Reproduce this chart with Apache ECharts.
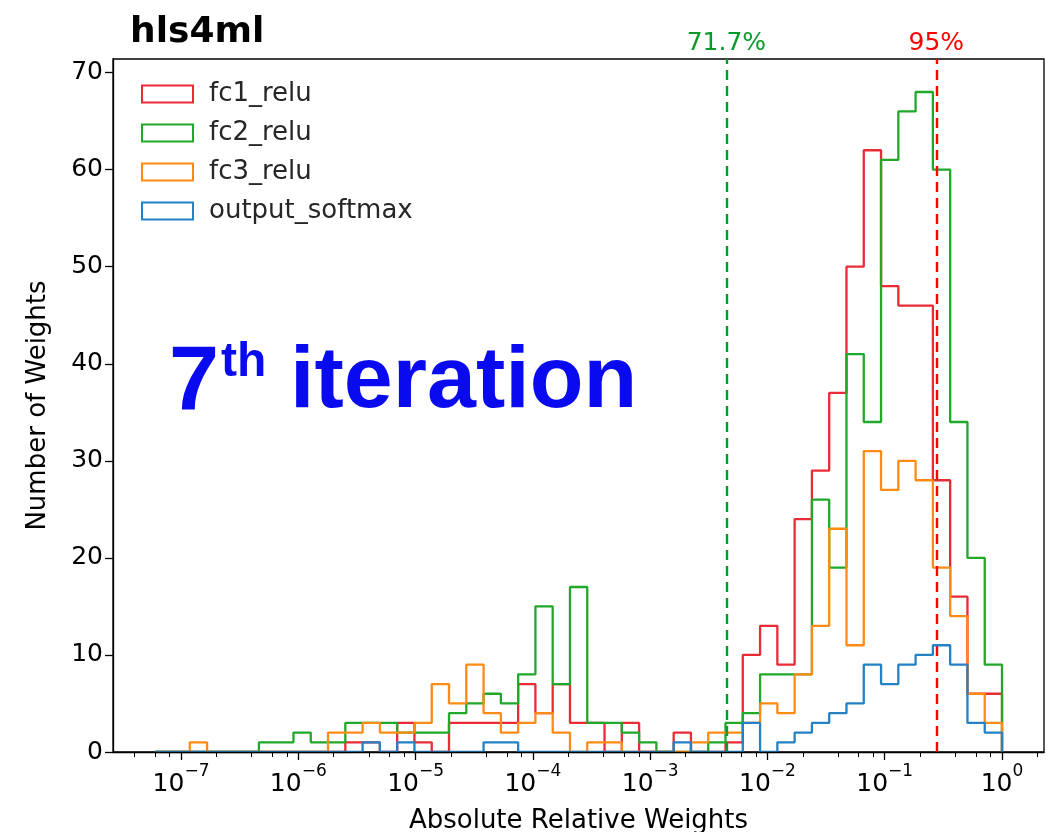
<!DOCTYPE html>
<html><head><meta charset="utf-8">
<script src="https://cdn.jsdelivr.net/npm/echarts@6/dist/echarts.min.js"></script>
<style>html,body{margin:0;padding:0;background:#fff}#c{width:1058px;height:832px}</style>
</head><body><div id="c"></div>
<script>
// Histogram binning (log10 space): 49 log-spaced bins from 10^-7.22 to 10^0
const LOG_LO = -7.22, LOG_HI = 0, N_BINS = 49;
const AXIS_LOG_MIN = -7.58, AXIS_LOG_MAX = 0.358;

const seriesNames = ['fc1_relu', 'fc2_relu', 'fc3_relu', 'output_softmax'];
const seriesColors = ['#ea2b36', '#1fa82a', '#ff8a14', '#2381c4'];

const fc1_relu = [0,0,0,0,0,0,0,0,0,0,0, 1,1,0,3,1,0,3,3,3,3, 7,4,7,3,3,0,3,0,0,2, 0,0,1,10,13,9,24,29,37,50, 62,48,46,46,28,16,6,6];
const fc2_relu = [0,0,0,0,0,0, 1,1,2,1,1, 3,3,3,2,2,2,4,5,6,5, 8,15,7,17,3,3,2,1,0,0, 0,1,3,4,8,8,8,26,19,41, 34,61,66,68,60,34,20,9];
const fc3_relu = [0,0,1,0,0,0,0,0,0,0, 2,2,3,2,2,3,7,5,9,4, 2,3,4,2,0,1,1,0,0,0, 0,1,2,2,3,5,4,8,13,23, 11,31,27,30,28,19,14,6,3];
const output_softmax = [0,0,0,0,0,0,0,0,0,0, 0,0,1,0,1,0,0,0,0,1, 1,0,0,0,0,0,0,0,0,0, 1,0,0,0,3,0,1,2,3,4, 5,9,7,9,10,11,9,3,2];

const xMajorExponents = [-7, -6, -5, -4, -3, -2, -1, 0];
const minorMultipliers = [2, 4, 6, 8];
const yTicks = [0, 10, 20, 30, 40, 50, 60, 70];
const Y_MAX = 71.4;

const thresholdValues = [0.00444, 0.2737];
const thresholdLabels = ['71.7%', '95%'];
const thresholdColors = ['#0a9a2a', '#ff0000'];

const FONT = '"DejaVu Sans", sans-serif';
const FS = 25;

// bin edges in log10 space
const binW = (LOG_HI - LOG_LO) / N_BINS;
const edges = [];
for (let i = 0; i <= N_BINS; i++) edges.push(LOG_LO + i * binW);

function stepData(counts) {
  const pts = [[edges[0], 0]];
  for (let i = 0; i < counts.length; i++) pts.push([edges[i], counts[i]]);
  pts.push([edges[N_BINS], 0]);
  return pts;
}

const minorTicks = [];
for (let k = -9; k <= 1; k++) {
  minorMultipliers.forEach(m => {
    const v = k + Math.log10(m);
    if (v > AXIS_LOG_MIN && v < AXIS_LOG_MAX) minorTicks.push(v);
  });
}

const allCounts = [fc1_relu, fc2_relu, fc3_relu, output_softmax];
const series = allCounts.map((c, i) => ({
  name: seriesNames[i], type: 'line', step: 'end', data: stepData(c),
  xAxisIndex: 0, yAxisIndex: 0,
  showSymbol: false, symbol: 'none', animation: false, silent: true,
  lineStyle: {color: seriesColors[i], width: 2.3},
  itemStyle: {color: seriesColors[i]},
  z: 2 + i
}));
// threshold lines
[1, 0].forEach((si, k) => {
  series[si].markLine = {
    symbol: 'none', silent: true, animation: false,
    data: [{xAxis: Math.log10(thresholdValues[k])}],
    lineStyle: {color: thresholdColors[k], type: [10, 6], width: 2.4},
    label: {show: true, position: 'end', formatter: thresholdLabels[k], color: thresholdColors[k], fontSize: FS, fontFamily: FONT, distance: 3}
  };
});

function fmtExp(v) {
  const e = Math.round(v);
  const s = String(e).replace('-', '\u2212');
  return '{b|10}{s|' + s + '}';
}

const chart = echarts.init(document.getElementById('c'), null, {renderer: 'canvas'});
chart.setOption({
  animation: false,
  backgroundColor: '#fff',
  title: {text: 'hls4ml', left: 125, top: 10, textStyle: {fontSize: 36, fontWeight: 'bold', fontFamily: FONT, color: '#000'}},
  grid: {left: 113, right: 14, top: 59, bottom: 80, show: true, borderColor: '#000', borderWidth: 1.3,
    backgroundColor: 'transparent', containLabel: false, outerBoundsMode: 'none'},
  legend: {
    orient: 'vertical', left: 136, top: 76, itemWidth: 51, itemHeight: 17, itemGap: 13,
    icon: 'rect', selectedMode: false,
    textStyle: {fontSize: 26, color: '#262626', fontFamily: FONT, padding: [0, 0, 0, 11]},
    data: seriesNames.map((n, i) => ({name: n, icon: 'rect', itemStyle: {color: '#ffffff', borderColor: seriesColors[i], borderWidth: 2}}))
  },
  xAxis: [{
    type: 'value', min: AXIS_LOG_MIN, max: AXIS_LOG_MAX, z: 10,
    axisLine: {show: true, onZero: false, lineStyle: {color: '#000', width: 1.3}},
    axisTick: {show: true, customValues: xMajorExponents, length: 8, lineStyle: {color: '#000', width: 1.3}},
    axisLabel: {show: true, customValues: xMajorExponents, formatter: fmtExp, margin: 11,
      rich: {
        b: {fontSize: FS, fontFamily: FONT, color: '#000', lineHeight: 34, verticalAlign: 'bottom'},
        s: {fontSize: 17, fontFamily: FONT, color: '#000', lineHeight: 34, verticalAlign: 'top'}
      }},
    splitLine: {show: false},
    name: 'Absolute Relative Weights', nameLocation: 'middle', nameGap: 56,
    nameTextStyle: {fontSize: 26, color: '#000', fontFamily: FONT}
  }, {
    type: 'value', min: AXIS_LOG_MIN, max: AXIS_LOG_MAX, position: 'bottom', z: 10,
    axisLine: {show: false, onZero: false},
    axisTick: {show: true, customValues: minorTicks, length: 5, lineStyle: {color: '#000', width: 1}},
    axisLabel: {show: false},
    splitLine: {show: false}
  }],
  yAxis: {
    type: 'value', min: 0, max: Y_MAX, interval: 10, z: 10,
    axisLine: {show: true, onZero: false, lineStyle: {color: '#000', width: 1.3}},
    axisTick: {show: true, customValues: yTicks, length: 8, lineStyle: {color: '#000', width: 1.3}},
    axisLabel: {customValues: yTicks, fontSize: FS, color: '#000', fontFamily: FONT, margin: 10},
    splitLine: {show: false},
    name: 'Number of Weights', nameLocation: 'middle', nameGap: 62,
    nameTextStyle: {fontSize: 26, color: '#000', fontFamily: FONT}
  },
  graphic: [
    {type: 'text', left: 169, top: 339, z: 100, style: {text: '7', font: 'bold 90px "Liberation Sans"', fill: '#0a0af0'}},
    {type: 'text', left: 221, top: 339, z: 100, style: {text: 'th', font: 'bold 48px "Liberation Sans"', fill: '#0a0af0'}},
    {type: 'text', left: 290, top: 339, z: 100, style: {text: 'iteration', font: 'bold 88px "Liberation Sans"', fill: '#0a0af0'}}
  ],
  series: series
});
</script></body></html>
